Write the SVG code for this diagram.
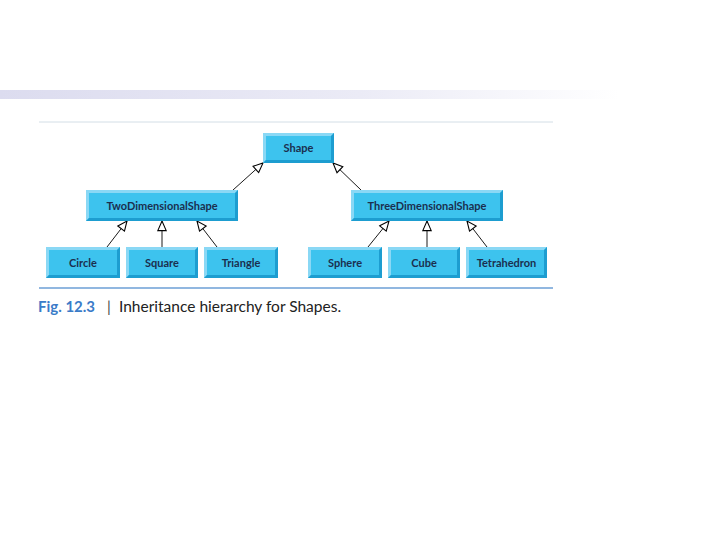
<svg xmlns="http://www.w3.org/2000/svg" width="720" height="540" viewBox="0 0 720 540">
<defs>
<linearGradient id="bar" x1="0" y1="0" x2="1" y2="0">
<stop offset="0" stop-color="#dcdcef"/>
<stop offset="0.5" stop-color="#ebebf6"/>
<stop offset="0.86" stop-color="#ffffff"/>
</linearGradient>
<marker id="tri" markerUnits="userSpaceOnUse" markerWidth="12" markerHeight="12" refX="9" refY="4" orient="auto" viewBox="0 0 10 8">
<path d="M1,0.5 L9,4 L1,7.5 Z" fill="#ffffff" stroke="#000000" stroke-width="0.9"/>
</marker>
<style>
.face{fill:#3dc3ee}
.lt{fill:#8ad8f5}
.dk{fill:#1d9dd0}
.lbl{font-family:Lato,"Open Sans","DejaVu Sans",sans-serif;font-weight:bold;font-size:11px;fill:#1b2f4f;text-anchor:middle}
.conn line{stroke:#000000;stroke-width:0.9;marker-end:url(#tri)}
.cap{font-family:Lato,"Open Sans","DejaVu Sans",sans-serif;font-size:15px}
</style>
</defs>
<rect width="720" height="540" fill="#ffffff"/>
<rect x="0" y="90" width="720" height="9" fill="url(#bar)"/>
<line x1="39" y1="122" x2="553" y2="122" stroke="#d3dee6" stroke-width="1"/>
<g class="conn" id="connectors">
<line x1="233" y1="190" x2="263" y2="163"/>
<line x1="361" y1="190" x2="333" y2="163"/>
<line x1="107" y1="247" x2="127" y2="221"/>
<line x1="162" y1="247" x2="162" y2="221"/>
<line x1="217" y1="247" x2="197" y2="221"/>
<line x1="368" y1="247" x2="389" y2="221"/>
<line x1="427" y1="247" x2="427" y2="221"/>
<line x1="487" y1="247" x2="467" y2="221"/>
</g>
<g id="shape">
<rect class="face" x="263" y="133" width="71" height="30"/>
<polygon class="lt" points="263,133 334,133 331,136 266,136 266,160 263,163"/>
<polygon class="dk" points="334,133 334,163 263,163 266,160 331,160 331,136"/>
<text class="lbl" x="298.5" y="152">Shape</text>
</g>
<g id="twoDimensionalShape">
<rect class="face" x="86" y="190" width="152" height="31"/>
<polygon class="lt" points="86,190 238,190 235,193 89,193 89,218 86,221"/>
<polygon class="dk" points="238,190 238,221 86,221 89,218 235,218 235,193"/>
<text class="lbl" x="162" y="209.5">TwoDimensionalShape</text>
</g>
<g id="threeDimensionalShape">
<rect class="face" x="351" y="190" width="152" height="31"/>
<polygon class="lt" points="351,190 503,190 500,193 354,193 354,218 351,221"/>
<polygon class="dk" points="503,190 503,221 351,221 354,218 500,218 500,193"/>
<text class="lbl" x="427" y="209.5">ThreeDimensionalShape</text>
</g>
<g id="circle">
<rect class="face" x="46" y="247" width="74" height="31"/>
<polygon class="lt" points="46,247 120,247 117,250 49,250 49,275 46,278"/>
<polygon class="dk" points="120,247 120,278 46,278 49,275 117,275 117,250"/>
<text class="lbl" x="83" y="266.5">Circle</text>
</g>
<g id="square">
<rect class="face" x="126" y="247" width="72" height="31"/>
<polygon class="lt" points="126,247 198,247 195,250 129,250 129,275 126,278"/>
<polygon class="dk" points="198,247 198,278 126,278 129,275 195,275 195,250"/>
<text class="lbl" x="162" y="266.5">Square</text>
</g>
<g id="triangle">
<rect class="face" x="204" y="247" width="74" height="31"/>
<polygon class="lt" points="204,247 278,247 275,250 207,250 207,275 204,278"/>
<polygon class="dk" points="278,247 278,278 204,278 207,275 275,275 275,250"/>
<text class="lbl" x="241" y="266.5">Triangle</text>
</g>
<g id="sphere">
<rect class="face" x="308" y="247" width="74" height="31"/>
<polygon class="lt" points="308,247 382,247 379,250 311,250 311,275 308,278"/>
<polygon class="dk" points="382,247 382,278 308,278 311,275 379,275 379,250"/>
<text class="lbl" x="345" y="266.5">Sphere</text>
</g>
<g id="cube">
<rect class="face" x="388" y="247" width="72" height="31"/>
<polygon class="lt" points="388,247 460,247 457,250 391,250 391,275 388,278"/>
<polygon class="dk" points="460,247 460,278 388,278 391,275 457,275 457,250"/>
<text class="lbl" x="424" y="266.5">Cube</text>
</g>
<g id="tetrahedron">
<rect class="face" x="466" y="247" width="81" height="31"/>
<polygon class="lt" points="466,247 547,247 544,250 469,250 469,275 466,278"/>
<polygon class="dk" points="547,247 547,278 466,278 469,275 544,275 544,250"/>
<text class="lbl" x="506.5" y="266.5">Tetrahedron</text>
</g>
<line x1="39" y1="288" x2="553" y2="288" stroke="#6d9fd6" stroke-width="1.5"/>
<text class="cap" x="38" y="311.5" font-weight="bold" fill="#3a7bc8">Fig. 12.3</text>
<text class="cap" x="107" y="311.5" fill="#444444">|</text>
<text class="cap" x="119" y="311.5" fill="#222222" style="font-size:15.5px">Inheritance hierarchy for Shapes.</text>
</svg>
